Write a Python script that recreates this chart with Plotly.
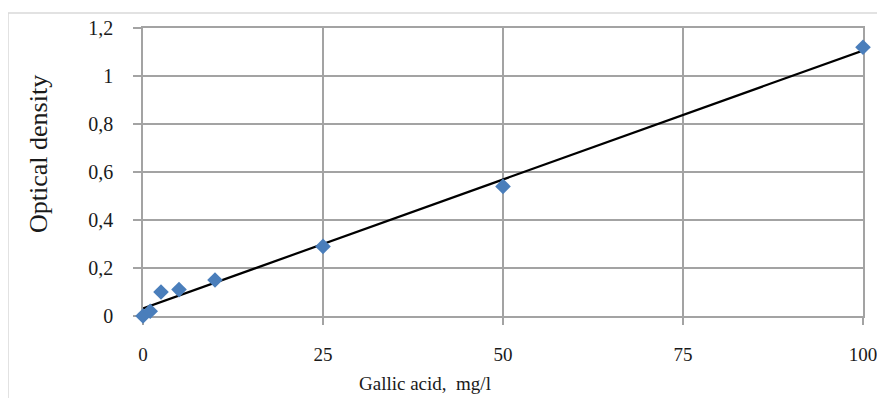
import numpy as np
import plotly.graph_objects as go

# Data
gallic_acid = [0, 1, 2.5, 5, 10, 25, 50, 100]          # mg/l
optical_density = [0.0, 0.02, 0.10, 0.11, 0.15, 0.29, 0.54, 1.12]
x_ticks = [0, 25, 50, 75, 100]
y_ticks = [0, 0.2, 0.4, 0.6, 0.8, 1.0, 1.2]

# Linear trendline (least squares) from the data
slope, intercept = np.polyfit(gallic_acid, optical_density, 1)
trend_x = [min(gallic_acid), max(gallic_acid)]
trend_y = [slope * v + intercept for v in trend_x]

GRID = "#a3a3a3"
FONT = "Liberation Serif"

# the page body has an 8px margin, so the figure is sized 8px smaller
L, T, PW, PH = 135, 20, 720, 288

fig = go.Figure()
fig.add_trace(go.Scatter(
    x=trend_x, y=trend_y, mode="lines",
    line=dict(color="black", width=2.2),
    cliponaxis=False, showlegend=False))
fig.add_trace(go.Scatter(
    x=gallic_acid, y=optical_density, mode="markers",
    marker=dict(symbol="diamond", size=12, color="#4a7ebb"),
    cliponaxis=False, showlegend=False))

fig.update_layout(
    width=877, height=390,
    margin=dict(l=L, r=877 - L - PW, t=T, b=390 - T - PH, autoexpand=False),
    paper_bgcolor="white", plot_bgcolor="white",
    separators=", ",
    font=dict(family=FONT, color="#1a1a1a", size=19),
    xaxis=dict(range=[0, 100], tickvals=x_ticks, showgrid=True, gridcolor=GRID,
               gridwidth=1.5, zeroline=False, showline=True, linecolor=GRID,
               linewidth=1.5, mirror=True, ticks="outside", ticklen=7,
               tickcolor=GRID, tickwidth=1.5, ticklabelstandoff=13,
               layer="below traces",
               tickfont=dict(size=19, family=FONT)),
    yaxis=dict(range=[0, 1.2], tickvals=y_ticks, showgrid=True, gridcolor=GRID,
               gridwidth=1.5, zeroline=False, showline=True, linecolor=GRID,
               linewidth=1.5, mirror=True, ticks="outside", ticklen=8,
               tickcolor=GRID, tickwidth=1.5, ticklabelstandoff=16,
               layer="below traces",
               tickfont=dict(size=20, family=FONT)),
    annotations=[
        dict(text="Gallic acid,&nbsp;&nbsp;mg/l", xref="paper", yref="paper",
             x=(425 - 143) / PW, y=-(383 - 316) / PH, xanchor="center",
             yanchor="middle", showarrow=False, font=dict(size=19, family=FONT)),
        dict(text="Optical density", xref="paper", yref="paper",
             x=(38 - 143) / PW, y=(316 - 154) / PH, xanchor="center",
             yanchor="middle", textangle=-90, showarrow=False,
             font=dict(size=26, family=FONT)),
    ],
    shapes=[
        dict(type="line", xref="paper", yref="paper",
             x0=(8 - 143) / PW, x1=(8 - 143) / PW,
             y0=(316 - 13) / PH, y1=(316 - 420) / PH,
             line=dict(color="#d9d9d9", width=1.5)),
        dict(type="line", xref="paper", yref="paper",
             x0=(8 - 143) / PW, x1=(900 - 143) / PW,
             y0=(316 - 13) / PH, y1=(316 - 13) / PH,
             line=dict(color="#d9d9d9", width=1.5)),
    ],
)

fig.write_html("out.html")
